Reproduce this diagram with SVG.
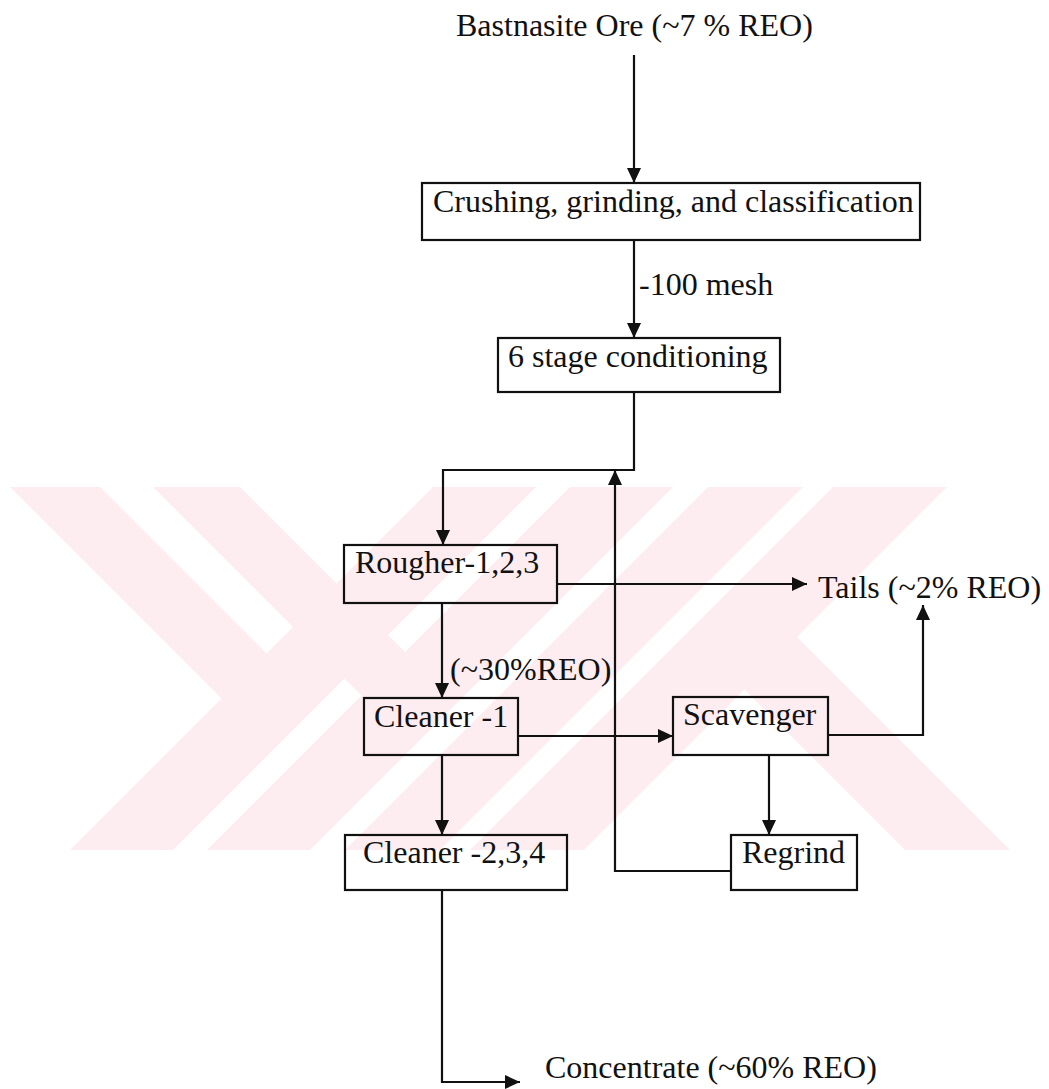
<svg xmlns="http://www.w3.org/2000/svg" width="1049" height="1089" viewBox="0 0 1049 1089">
  <defs>
    <clipPath id="wm-clip">
      <rect x="0" y="487" width="1049" height="363"/>
    </clipPath>
    <marker id="arrow" markerUnits="userSpaceOnUse" markerWidth="15" markerHeight="14" refX="15" refY="7" orient="auto">
      <path d="M0,0 L15,7 L0,14 z" fill="#111"/>
    </marker>
  </defs>
  <style>
    .wm { fill: #fdedf0; }
    .box { fill: none; stroke: #111; stroke-width: 2.2; }
    .lbl { font-family: "Liberation Serif", "Times New Roman", serif; font-size: 32px; fill: #111; }
    .wire { fill: none; stroke: #111; stroke-width: 2.2; marker-end: url(#arrow); }
  </style>

  <rect width="1049" height="1089" fill="#ffffff"/>

  <!-- light background emblem: slanted bands -->
  <g id="watermark" clip-path="url(#wm-clip)">
    <polygon class="wm" points="70,850 173,850 536,487 433,487"/>
    <polygon class="wm" points="207,850 310,850 673,487 570,487"/>
    <polygon class="wm" points="345,850 440,850 803,487 708,487"/>
    <polygon class="wm" points="470,850 584,850 947,487 833,487"/>
    <polygon class="wm" points="10,487 100,487 285,672 240,717"/>
    <polygon class="wm" points="153,487 240,487 443,690 366,700"/>
    <polygon class="wm" points="690,635 795,635 1010,850 905,850"/>
  </g>

  <!-- flow connectors -->
  <g id="connectors">
    <path class="wire" d="M634,55 V183"/>
    <path class="wire" d="M634,240 V338"/>
    <path class="wire" d="M634,392 V470 H443 V545"/>
    <path class="wire" d="M557,584 H807"/>
    <path class="wire" d="M442,603 V698"/>
    <path class="wire" d="M518,736 H673"/>
    <path class="wire" d="M442,755 V835"/>
    <path class="wire" d="M828,735 H923 V605"/>
    <path class="wire" d="M769,755 V835"/>
    <path class="wire" d="M731,871 H615 V470"/>
    <path class="wire" d="M442,890 V1082 H520"/>
  </g>

  <!-- free labels -->
  <g id="feed">
    <text class="lbl" x="456" y="36">Bastnasite Ore (~7 % REO)</text>
  </g>
  <g id="mesh-label">
    <text class="lbl" x="639" y="295">-100 mesh</text>
  </g>
  <g id="rougher-grade">
    <text class="lbl" x="450" y="680">(~30%REO)</text>
  </g>
  <g id="tails">
    <text class="lbl" x="818" y="598">Tails (~2% REO)</text>
  </g>
  <g id="concentrate">
    <text class="lbl" x="545" y="1078">Concentrate (~60% REO)</text>
  </g>

  <!-- process units -->
  <g id="crushing">
    <rect class="box" x="422" y="183" width="498" height="57"/>
    <text class="lbl" x="433" y="212">Crushing, grinding, and classification</text>
  </g>
  <g id="conditioning">
    <rect class="box" x="498" y="338" width="282" height="54"/>
    <text class="lbl" x="508" y="367">6 stage conditioning</text>
  </g>
  <g id="rougher">
    <rect class="box" x="344" y="545" width="213" height="58"/>
    <text class="lbl" x="355" y="573">Rougher-1,2,3</text>
  </g>
  <g id="cleaner-1">
    <rect class="box" x="364" y="698" width="154" height="57"/>
    <text class="lbl" x="374" y="727">Cleaner -1</text>
  </g>
  <g id="scavenger">
    <rect class="box" x="673" y="697" width="155" height="58"/>
    <text class="lbl" x="683" y="725">Scavenger</text>
  </g>
  <g id="cleaner-234">
    <rect class="box" x="345" y="835" width="222" height="55"/>
    <text class="lbl" x="363" y="863">Cleaner -2,3,4</text>
  </g>
  <g id="regrind">
    <rect class="box" x="731" y="835" width="126" height="55"/>
    <text class="lbl" x="742" y="863">Regrind</text>
  </g>
</svg>
